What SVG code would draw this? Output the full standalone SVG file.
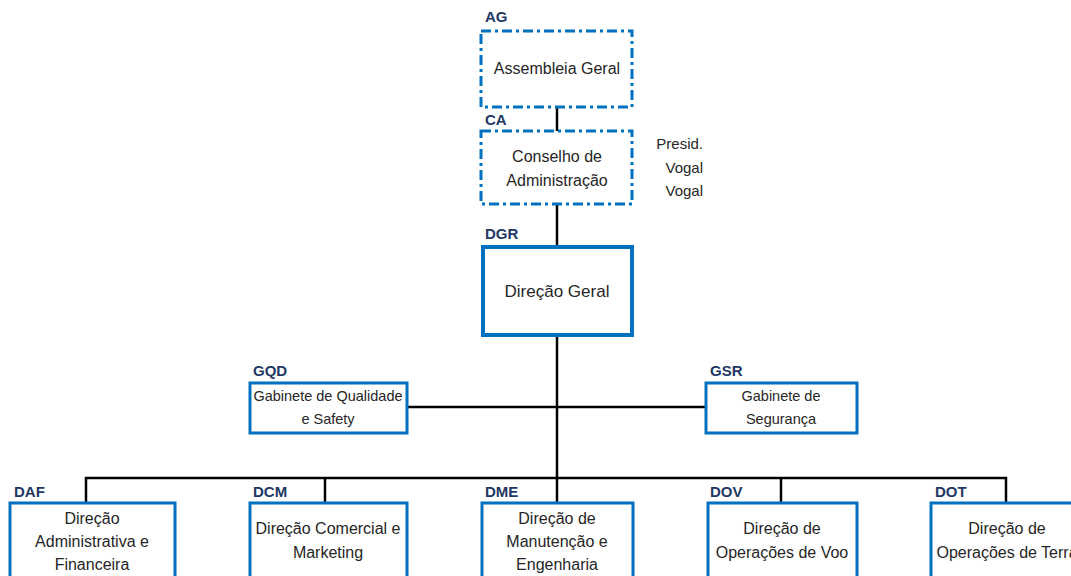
<svg xmlns="http://www.w3.org/2000/svg" width="1071" height="576" viewBox="0 0 1071 576">
  <style>
    .box { fill: #ffffff; stroke: #0070c0; stroke-width: 3; }
    .dash { stroke-dasharray: 10 4 3 4; }
    .thick { stroke-width: 4; }
    .code { font-family: "Liberation Sans", Arial, sans-serif; font-weight: bold; font-size: 15px; fill: #1f3864; }
    .txt { font-family: "Liberation Sans", Arial, sans-serif; font-size: 16px; fill: #262626; text-anchor: middle; }
    .sm { font-size: 14.5px; }
    .big { font-size: 17px; }
    .side { font-family: "Liberation Sans", Arial, sans-serif; font-size: 15px; fill: #262626; text-anchor: end; }
    .link { fill: none; stroke: #000000; stroke-width: 2.5; }
  </style>
  <rect width="1071" height="576" fill="#ffffff"/>

  <!-- connectors -->
  <g id="connectors">
    <line class="link" x1="557" y1="107" x2="557" y2="131"/>
    <line class="link" x1="557" y1="204" x2="557" y2="246"/>
    <line class="link" x1="557" y1="336" x2="557" y2="478"/>
    <line class="link" x1="407" y1="407" x2="706" y2="407"/>
    <polyline class="link" points="86,503 86,478 1006,478 1006,503"/>
    <line class="link" x1="325" y1="478" x2="325" y2="503"/>
    <line class="link" x1="557" y1="478" x2="557" y2="503"/>
    <line class="link" x1="781" y1="478" x2="781" y2="503"/>
  </g>

  <g id="AG">
    <text class="code" x="485" y="22">AG</text>
    <rect class="box dash" x="481" y="31" width="151" height="76"/>
    <text class="txt" x="557" y="74">Assembleia Geral</text>
  </g>

  <g id="CA">
    <text class="code" x="485" y="125">CA</text>
    <rect class="box dash" x="481" y="131" width="151" height="73"/>
    <text class="txt" x="557" y="162">Conselho de</text>
    <text class="txt" x="557" y="186">Administração</text>
    <text class="side" x="703" y="149">Presid.</text>
    <text class="side" x="703" y="173">Vogal</text>
    <text class="side" x="703" y="196">Vogal</text>
  </g>

  <g id="DGR">
    <text class="code" x="485" y="239">DGR</text>
    <rect class="box thick" x="483" y="247" width="149" height="88"/>
    <text class="txt big" x="557" y="297">Direção Geral</text>
  </g>

  <g id="GQD">
    <text class="code" x="253" y="376">GQD</text>
    <rect class="box" x="250" y="383" width="157" height="50"/>
    <text class="txt sm" x="328" y="401">Gabinete de Qualidade</text>
    <text class="txt sm" x="328" y="424">e Safety</text>
  </g>

  <g id="GSR">
    <text class="code" x="710" y="376">GSR</text>
    <rect class="box" x="706" y="383" width="151" height="50"/>
    <text class="txt sm" x="781" y="401">Gabinete de</text>
    <text class="txt sm" x="781" y="424">Segurança</text>
  </g>

  <g id="DAF">
    <text class="code" x="14" y="497">DAF</text>
    <rect class="box" x="10" y="503" width="165" height="90"/>
    <text class="txt" x="92" y="524">Direção</text>
    <text class="txt" x="92" y="547">Administrativa e</text>
    <text class="txt" x="92" y="570">Financeira</text>
  </g>

  <g id="DCM">
    <text class="code" x="253" y="497">DCM</text>
    <rect class="box" x="250" y="503" width="157" height="90"/>
    <text class="txt" x="328" y="534">Direção Comercial e</text>
    <text class="txt" x="328" y="558">Marketing</text>
  </g>

  <g id="DME">
    <text class="code" x="485" y="497">DME</text>
    <rect class="box" x="482" y="503" width="151" height="90"/>
    <text class="txt" x="557" y="524">Direção de</text>
    <text class="txt" x="557" y="547">Manutenção e</text>
    <text class="txt" x="557" y="570">Engenharia</text>
  </g>

  <g id="DOV">
    <text class="code" x="710" y="497">DOV</text>
    <rect class="box" x="708" y="503" width="149" height="90"/>
    <text class="txt" x="782" y="534">Direção de</text>
    <text class="txt" x="782" y="558">Operações de Voo</text>
  </g>

  <!-- this box runs past the right edge of the sheet -->
  <g id="DOT">
    <text class="code" x="935" y="497">DOT</text>
    <rect class="box" x="931" y="503" width="152" height="90"/>
    <text class="txt" x="1007" y="534">Direção de</text>
    <text class="txt" x="1007" y="558">Operações de Terra</text>
  </g>
</svg>
